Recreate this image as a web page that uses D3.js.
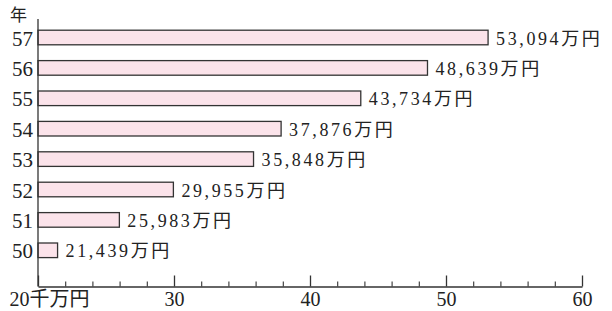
<!DOCTYPE html>
<html>
<head>
<meta charset="utf-8">
<script src="https://cdn.jsdelivr.net/npm/d3@7"></script>
<style>
  body { margin: 0; background: #fff; }
  text { font-family: "Liberation Serif", "Noto Sans CJK JP", serif; fill: #222; }
</style>
</head>
<body>
<div class="svg-content"></div>
<script>
// years (昭和) and values in 万円
var years = ["57", "56", "55", "54", "53", "52", "51", "50"];
var values = [53094, 48639, 43734, 37876, 35848, 29955, 25983, 21439];
var majorTicks = [20, 30, 40, 50, 60];
var minorTicks = [22, 24, 26, 28, 32, 34, 36, 38, 42, 44, 46, 48, 52, 54, 56, 58];

var width = 612;
var height = 311;

var svg = d3.select(".svg-content")
  .append("svg")
  .attr("width", width)
  .attr("height", height);

var x = d3.scaleLinear().domain([20, 60]).range([38, 582]);
var y = d3.scaleBand().domain(years).range([22.3, 265.5])
  .paddingInner(0.52).paddingOuter(0.26);
var baseY = 286.5;

var data = years.map(function(d, i) { return {year: d, value: values[i]}; });

// bars
svg.selectAll("rect.bar")
  .data(data)
  .enter().append("rect")
  .attr("class", "bar")
  .attr("x", x(20))
  .attr("y", function(d) { return y(d.year); })
  .attr("width", function(d) { return x(d.value / 1000) - x(20); })
  .attr("height", y.bandwidth())
  .attr("fill", "#fbe3ea")
  .attr("stroke", "#333")
  .attr("stroke-width", 1.3);

// value labels
svg.selectAll("text.val")
  .data(data)
  .enter().append("text")
  .attr("class", "val")
  .attr("x", function(d) { return x(d.value / 1000) + 8; })
  .attr("y", function(d) { return y(d.year) + y.bandwidth() / 2 + 7; })
  .attr("font-size", "18px")
  .attr("letter-spacing", "2.6px")
  .text(function(d) { return d3.format(",")(d.value) + "万円"; });

// y labels
svg.selectAll("text.year")
  .data(years)
  .enter().append("text")
  .attr("class", "year")
  .attr("x", 33)
  .attr("y", function(d) { return y(d) + y.bandwidth() / 2 + 8; })
  .attr("text-anchor", "end")
  .attr("font-size", "21px")
  .text(function(d) { return d; });

svg.append("text")
  .attr("x", 10)
  .attr("y", 21)
  .attr("font-size", "17px")
  .text("年");

// y axis line
svg.append("line")
  .attr("x1", x(20)).attr("x2", x(20))
  .attr("y1", 19).attr("y2", baseY)
  .attr("stroke", "#333").attr("stroke-width", 1.3);

// x axis
var xAxis = svg.append("g")
  .attr("transform", "translate(0," + baseY + ")")
  .call(d3.axisBottom(x).tickValues(majorTicks).tickSize(-11).tickSizeOuter(0)
    .tickFormat(function(d) { return d == 20 ? "20千万円" : d; }));

xAxis.select(".domain").attr("stroke", "#333").attr("stroke-width", 1.3);
xAxis.selectAll(".tick line").attr("stroke", "#333").attr("stroke-width", 1.3);
xAxis.selectAll(".tick text")
  .attr("y", 19)
  .attr("dy", 0)
  .attr("font-size", "20px")
  .attr("font-family", null)
  .attr("fill", "#222");
xAxis.selectAll(".tick text")
  .filter(function(d) { return d == 20; })
  .attr("text-anchor", "start")
  .attr("x", -29);

var minorAxis = svg.append("g")
  .attr("transform", "translate(0," + baseY + ")")
  .call(d3.axisBottom(x).tickValues(minorTicks).tickSize(-5).tickFormat(""));
minorAxis.select(".domain").remove();
minorAxis.selectAll(".tick line").attr("stroke", "#333").attr("stroke-width", 1.1);
</script>
</body>
</html>
